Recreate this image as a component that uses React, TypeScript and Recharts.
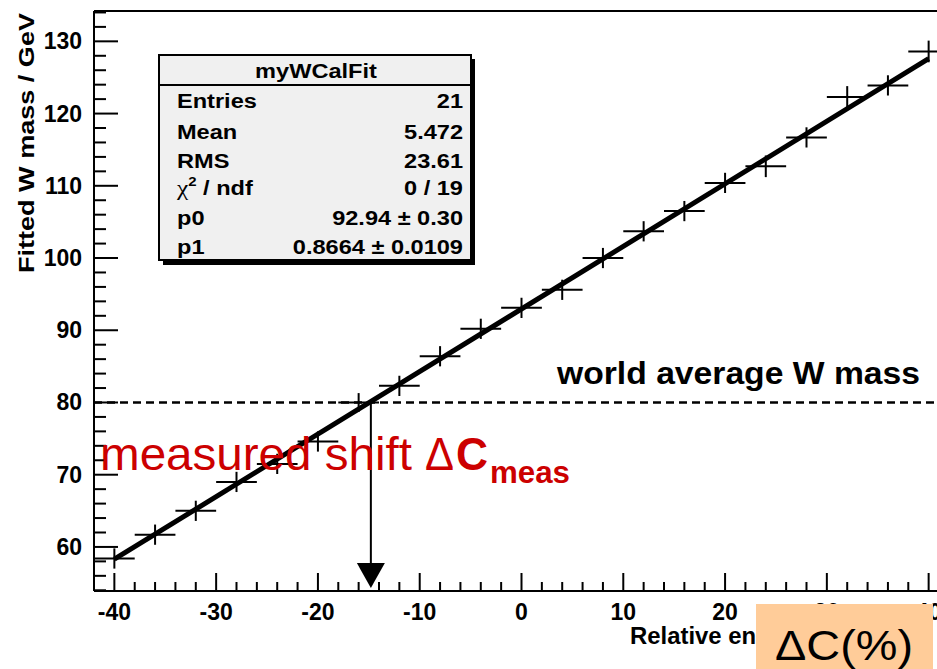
import { ComposedChart, XAxis, YAxis, Line, Scatter, ErrorBar, ReferenceLine, ReferenceDot } from "recharts"

// relative energy-scale shift (%) of each calibration sample, and the fitted W mass
const shiftPct = [-40, -36, -32, -28, -24, -20, -16, -12, -8, -4, 0, 4, 8, 12, 16, 20, 24, 28, 32, 36, 40]
const fittedMass = [58.4, 61.7, 65.0, 69.0, 71.5, 74.6, 80.0, 82.3, 86.4, 90.2, 93.1, 95.6, 100.0, 103.7, 106.5, 110.4, 112.7, 116.7, 122.3, 123.9, 128.6]
const binHalfWidth = [2, 2, 2, 2, 2, 2, 2, 2, 2, 2, 2, 2, 2, 2, 2, 2, 2, 2, 2, 2, 2]
const massError = [1.4, 1.4, 1.4, 1.4, 1.4, 1.4, 1.3, 1.4, 1.4, 1.4, 1.4, 1.4, 1.4, 1.4, 1.4, 1.4, 1.5, 1.4, 1.5, 1.4, 1.5]

// straight-line fit p0 + p1*x, end points as drawn
const fitShift = [-40, 40]
const fitMass = [58.3, 127.6]

const worldAverage = 80
const measuredShift = -14.8

const xMajor = [-40, -30, -20, -10, 0, 10, 20, 30, 40]
const yMajor = [60, 70, 80, 90, 100, 110, 120, 130]
const xTicks = Array.from({ length: 41 }, (_, i) => -40 + 2 * i)
const yTicks = Array.from({ length: 41 }, (_, i) => 54 + 2 * i)

const statLabels = ["Entries", "Mean", "RMS", "χ2 / ndf", "p0", "p1"]
const statValues = ["21", "5.472", "23.61", "0 / 19", "92.94 ± 0.30", "0.8664 ± 0.0109"]

const points = shiftPct.map((x, i) => ({ x, y: fittedMass[i], ex: binHalfWidth[i], ey: massError[i] }))
const fitLine = fitShift.map((x, i) => ({ x, y: fitMass[i] }))

const FONT = "'Liberation Sans', Arial, Helvetica, sans-serif"

const XTick = (props: any) => {
  const { x, y, payload } = props
  const major = xMajor.includes(payload.value)
  return (
    <g>
      <line x1={x} x2={x} y1={y} y2={y - (major ? 18 : 9)} stroke="#000" strokeWidth={2} />
      {major && (
        <text x={x} y={y + 29} textAnchor="middle" fontFamily={FONT} fontWeight="bold" fontSize={23} fill="#000">
          {payload.value}
        </text>
      )}
    </g>
  )
}

const YTick = (props: any) => {
  const { x, y, payload } = props
  const major = yMajor.includes(payload.value)
  return (
    <g>
      <line x1={x} x2={x + (major ? 24 : 12)} y1={y} y2={y} stroke="#000" strokeWidth={2} />
      {major && (
        <text x={x - 12} y={y + 8} textAnchor="end" fontFamily={FONT} fontWeight="bold" fontSize={23} fill="#000">
          {payload.value}
        </text>
      )}
    </g>
  )
}

const ArrowHead = ({ cx, cy }: any) => (
  <polygon points={`${cx},${cy} ${cx - 14},${cy - 25} ${cx + 14},${cy - 25}`} fill="#000" />
)

const SX = 1.15

function StatsBox() {
  const rows = [108, 139, 168, 195, 225, 254]
  return (
    <g>
      <rect x={163} y={59} width={312} height={206} fill="#000" />
      <rect x={159} y={55} width={312} height={205} fill="#f0f0f0" stroke="#000" strokeWidth={2} />
      <line x1={159} x2={471} y1={85} y2={85} stroke="#000" strokeWidth={2} />
      <g transform={`scale(${SX},1)`} fontFamily={FONT} fontWeight="bold" fontSize={20.5} fill="#000">
        <text x={316 / SX} y={78} textAnchor="middle">myWCalFit</text>
        {statLabels.map((label, i) =>
          label.startsWith("χ") ? (
            <text key={label} x={177 / SX} y={rows[i]}>
              <tspan fontFamily="'Liberation Serif', serif" fontWeight="normal" fontSize={22}>χ</tspan>
              <tspan fontSize={13} dy={-9}>2</tspan>
              <tspan dy={9}> / ndf</tspan>
            </text>
          ) : (
            <text key={label} x={177 / SX} y={rows[i]}>{label}</text>
          )
        )}
        {statValues.map((v, i) => (
          <text key={v} x={463 / SX} y={rows[i]} textAnchor="end">{v}</text>
        ))}
      </g>
    </g>
  )
}

export default function App() {
  return (
    <div style={{ position: "absolute", left: 0, top: 0, width: 937, height: 669, overflow: "hidden", background: "#fff" }}>
      <ComposedChart width={960} height={669} margin={{ top: 11, right: 11, bottom: 0, left: 0 }}>
        <XAxis
          dataKey="x"
          type="number"
          domain={[-42, 42]}
          ticks={xTicks}
          interval={0}
          allowDataOverflow
          height={78}
          tickSize={0}
          tickMargin={0}
          tickLine={false}
          axisLine={{ stroke: "#000", strokeWidth: 2 }}
          tick={<XTick />}
        />
        <YAxis
          dataKey="y"
          type="number"
          domain={[53.9, 134.2]}
          ticks={yTicks}
          interval={0}
          allowDataOverflow
          width={94}
          tickSize={0}
          tickMargin={0}
          tickLine={false}
          axisLine={{ stroke: "#000", strokeWidth: 2 }}
          tick={<YTick />}
        />
        <ReferenceLine y={134.2} stroke="#000" strokeWidth={2} ifOverflow="visible" />
        <ReferenceLine y={worldAverage} stroke="#000" strokeWidth={2.5} strokeDasharray="8 5" />
        <ReferenceLine
          segment={[{ x: measuredShift, y: worldAverage }, { x: measuredShift, y: 57.6 }]}
          stroke="#000"
          strokeWidth={2}
        />
        <ReferenceDot x={measuredShift} y={54.3} r={1} shape={<ArrowHead />} />
        <Scatter data={points} dataKey="y" shape={() => <g />} isAnimationActive={false}>
          <ErrorBar dataKey="ex" direction="x" width={0} stroke="#000" strokeWidth={2} />
          <ErrorBar dataKey="ey" direction="y" width={0} stroke="#000" strokeWidth={2} />
        </Scatter>
        <Line data={fitLine} dataKey="y" type="linear" stroke="#000" strokeWidth={5} dot={false} activeDot={false} isAnimationActive={false} />
      </ComposedChart>

      <svg width={937} height={669} style={{ position: "absolute", left: 0, top: 0, pointerEvents: "none" }}>
        <text transform="translate(34,143) rotate(-90)" textAnchor="middle" fontFamily={FONT} fontWeight="bold" fontSize={22} textLength={260} lengthAdjust="spacingAndGlyphs" fill="#000">
          Fitted W mass / GeV
        </text>
        <StatsBox />
        <text x={557} y={384} fontFamily={FONT} fontWeight="bold" fontSize={31} textLength={363} lengthAdjust="spacingAndGlyphs" fill="#000">
          world average W mass
        </text>
        <g fontFamily={FONT} fill="#cc0000">
          <text x={100} y={470} fontSize={46} textLength={312} lengthAdjust="spacingAndGlyphs">measured shift</text>
          <text x={425} y={470} fontSize={46} textLength={29} lengthAdjust="spacingAndGlyphs">Δ</text>
          <text x={456} y={470} fontSize={46} fontWeight="bold" textLength={32} lengthAdjust="spacingAndGlyphs">C</text>
          <text x={490} y={483} fontSize={32} fontWeight="bold" textLength={80} lengthAdjust="spacingAndGlyphs">meas</text>
        </g>
        <text x={630} y={644} fontFamily={FONT} fontWeight="bold" fontSize={23} textLength={300} lengthAdjust="spacingAndGlyphs" fill="#000">
          Relative energy scale shift
        </text>
        <rect x={756} y={604} width={177} height={65} fill="#ffcc99" />
        <text x={775} y={660} fontFamily={FONT} fontSize={42} textLength={138} lengthAdjust="spacingAndGlyphs" fill="#000">
          ΔC(%)
        </text>
      </svg>
    </div>
  )
}
